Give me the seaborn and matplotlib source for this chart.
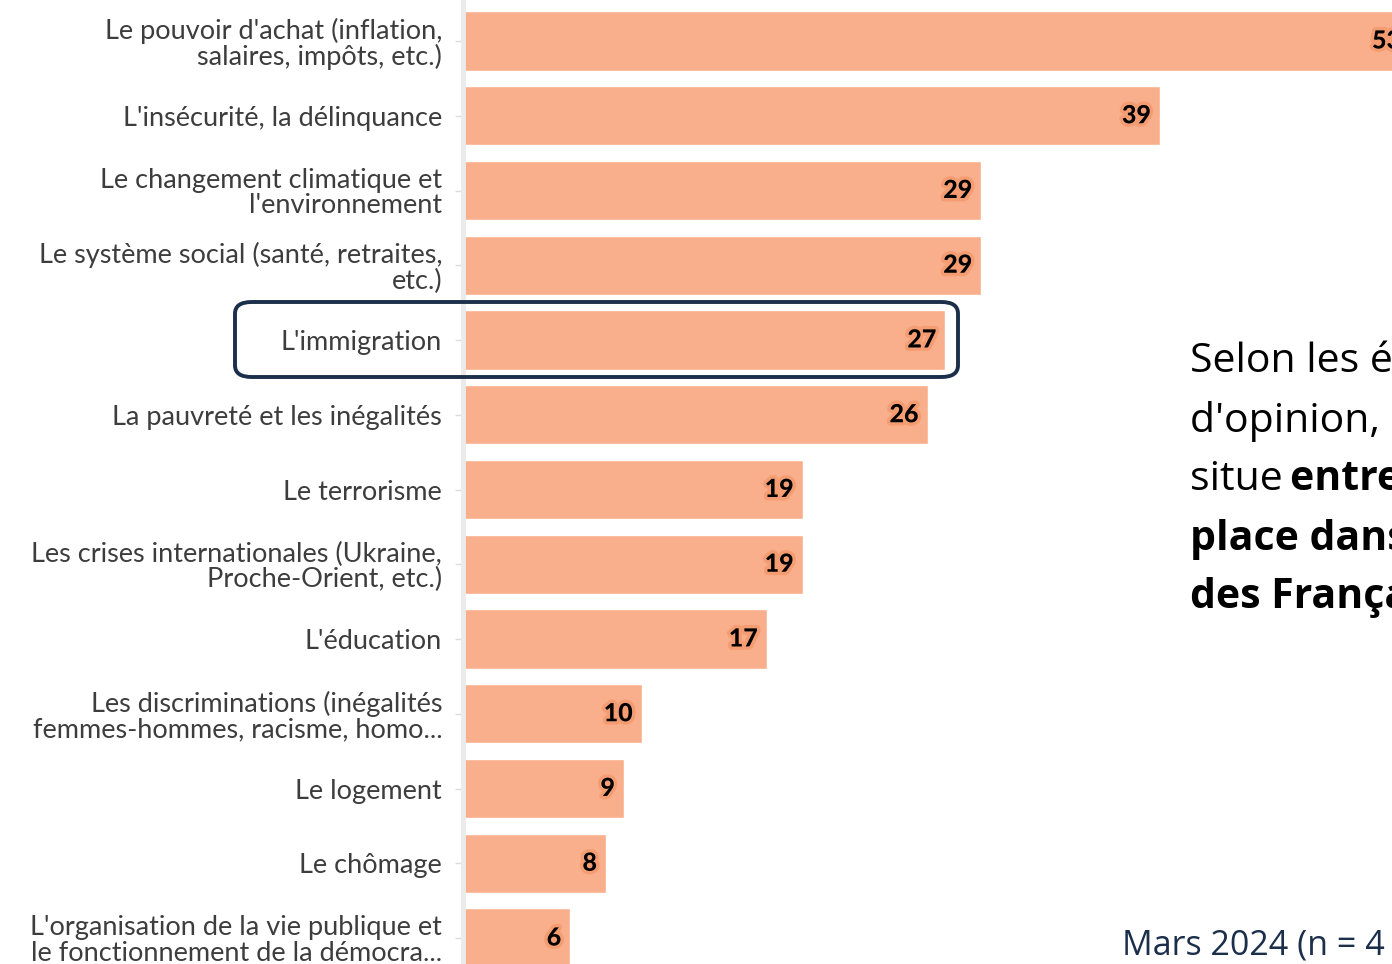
import matplotlib
matplotlib.use("Agg")
import matplotlib.pyplot as plt
import matplotlib.patheffects as pe
from matplotlib.patches import FancyBboxPatch
import seaborn as sns
import pandas as pd

categories = [
    "Le pouvoir d'achat (inflation,\nsalaires, impôts, etc.)",
    "L'insécurité, la délinquance",
    "Le changement climatique et\nl'environnement",
    "Le système social (santé, retraites,\netc.)",
    "L'immigration",
    "La pauvreté et les inégalités",
    "Le terrorisme",
    "Les crises internationales (Ukraine,\nProche-Orient, etc.)",
    "L'éducation",
    "Les discriminations (inégalités\nfemmes-hommes, racisme, homo...",
    "Le logement",
    "Le chômage",
    "L'organisation de la vie publique et\nle fonctionnement de la démocra...",
]
values = [53, 39, 29, 29, 27, 26, 19, 19, 17, 10, 9, 8, 6]
highlight = "L'immigration"

side_lines = [
    [("Selon les études", "normal")],
    [("d'opinion, l'immigration se", "normal")],
    [("situe ", "normal"), ("entre la 3e et la 5e", "bold")],
    [("place dans les préoccupations", "bold")],
    [("des Français", "bold")],
]
footnote = "Mars 2024 (n = 4 000)"

BAR = "#f9af8b"
HALO = "#f59d72"
NAVY = "#1b2f4a"

sns.set_theme(style="white")
plt.rcParams["font.family"] = ["Lato", "DejaVu Sans"]

W, H = 1392, 964
fig = plt.figure(figsize=(W / 100, H / 100), dpi=100)

# axes: zero line at x=463, ~17.87 px per point, rows every ~74.75 px
x0 = 463
px_per_unit = 17.87
ax = fig.add_axes([x0 / W, 0, 1 - x0 / W, 1])

df = pd.DataFrame({"theme": categories, "pct": values})
sns.barplot(data=df, y="theme", x="pct", orient="h", color=BAR,
            width=0.79, saturation=1, ax=ax)

pitch = (938 - 41) / 12
ax.set_ylim(12 + (H - 938) / pitch, -41 / pitch)
ax.set_xlim(0, (W - x0) / px_per_unit)

for i, v in enumerate(values):
    ax.text(v - 9 / px_per_unit, i, str(v), ha="right", va="center",
            fontsize=18, fontweight="black", color="black", family="Lato",
            path_effects=[pe.withStroke(linewidth=5, foreground=HALO)])

ax.set_xlabel("")
ax.set_ylabel("")
ax.set_xticks([])
for s in ["top", "right", "bottom"]:
    ax.spines[s].set_visible(False)
ax.spines["left"].set_color("#ebebeb")
ax.spines["left"].set_linewidth(3.5)
ax.tick_params(axis="y", left=True, length=6, width=1, color="#dddddd",
               pad=9, labelsize=19.5, labelcolor="#3d3d3d")
for lab in ax.get_yticklabels():
    lab.set_linespacing(1.02)

# highlight box around the immigration row
idx = categories.index(highlight)
yc = 41 + idx * pitch
box = FancyBboxPatch((235 / W, (H - yc - 37) / H), (958 - 235) / W, 75 / H,
                     boxstyle="round,pad=0,rounding_size=0.012",
                     transform=fig.transFigure, fill=False,
                     edgecolor=NAVY, linewidth=2.8, zorder=10)
fig.patches.append(box)

# side commentary (cut by the right edge, as in the slide)
for k, line in enumerate(side_lines):
    y = 362 + k * 59
    x = 1190
    for txt, wt in line:
        fig.text(x / W, 1 - y / H, txt, ha="left", va="center",
                 fontsize=29.5, fontweight=wt, color="black",
                 family=["Open Sans", "DejaVu Sans"])
        if txt == "situe ":
            x = 1290

fig.text(1122 / W, 1 - 946 / H, footnote, ha="left", va="center",
         fontsize=24.5, color=NAVY, family=["Open Sans", "DejaVu Sans"])

fig.savefig("out.png", dpi=100)
